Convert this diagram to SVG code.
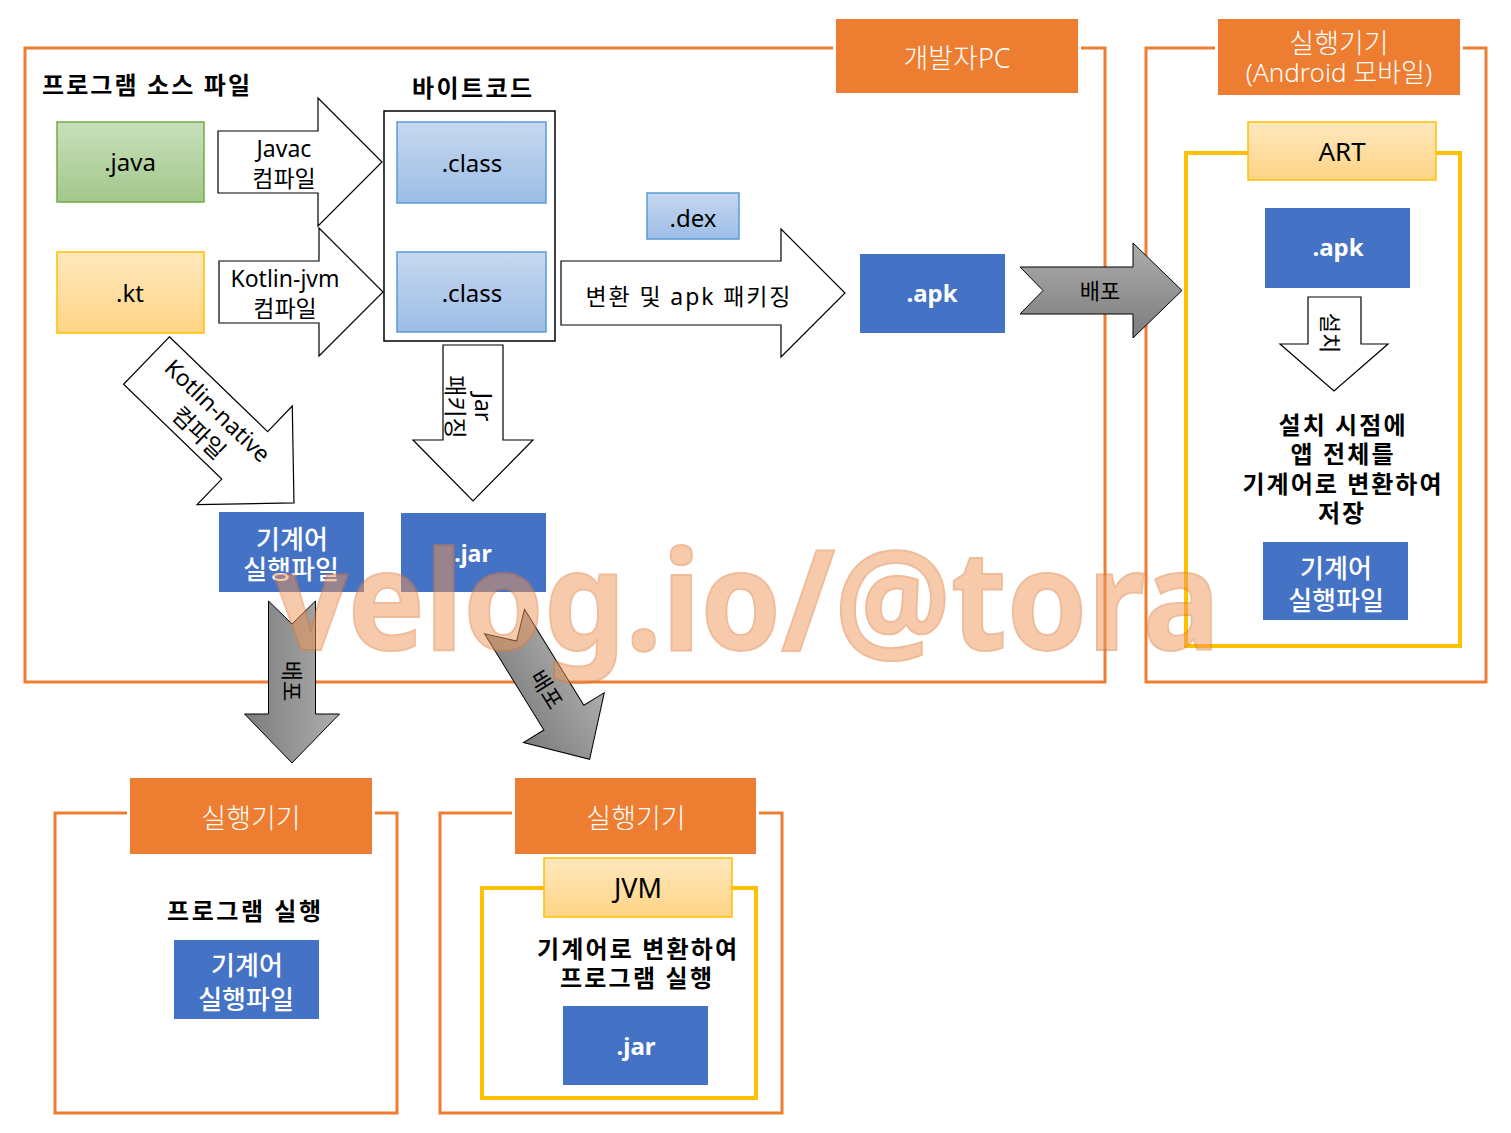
<svg xmlns="http://www.w3.org/2000/svg" width="1511" height="1133" viewBox="0 0 1511 1133">
<defs>
<style>
text{font-family:"Noto Sans","Noto Sans CJK KR",sans-serif;fill:#000}
.c{text-anchor:middle}
.b{font-weight:700}
.wt{fill:#fff}
.md{font-weight:500}
.lt{font-weight:300;fill:#fff}
.frame{fill:none;stroke:#ED7D31;stroke-width:3}
.yframe{fill:none;stroke:#FFC000;stroke-width:4}
.lbl{fill:#ED7D31}
.gap{fill:#fff}
.blue{fill:#4472C4}
.lblue{fill:url(#gBlueL);stroke:#5B9BD5;stroke-width:1.5}
.green{fill:url(#gGreen);stroke:#70AD47;stroke-width:1.5}
.yel{fill:url(#gYel);stroke:#FFC000;stroke-width:1.5}
.warrow{fill:#fff;stroke:#000;stroke-width:1.2}
.garrow{fill:url(#gGray);stroke:#000;stroke-width:1}
.wm{font-family:"Noto Sans","Open Sans",sans-serif;font-weight:700;fill:#EE9758;stroke:#E07B3A;stroke-width:2;opacity:0.5}
</style>
<linearGradient id="gGreen" x1="0" y1="0" x2="0" y2="1"><stop offset="0" stop-color="#C8E0BB"/><stop offset="1" stop-color="#A3C78B"/></linearGradient>
<linearGradient id="gYel" x1="0" y1="0" x2="0" y2="1"><stop offset="0" stop-color="#FFE8BE"/><stop offset="1" stop-color="#FFD485"/></linearGradient>
<linearGradient id="gBlueL" x1="0" y1="0" x2="0" y2="1"><stop offset="0" stop-color="#C7D8EF"/><stop offset="1" stop-color="#9CBDE6"/></linearGradient>
<linearGradient id="gGray" x1="0" y1="0" x2="0" y2="1"><stop offset="0" stop-color="#ADADAD"/><stop offset="1" stop-color="#7C7C7C"/></linearGradient>
</defs>
<rect width="1511" height="1133" fill="#fff"/>

<!-- Developer PC frame -->
<g id="devpc">
<rect class="frame" x="25" y="48" width="1080" height="634"/>
<rect class="gap" x="833" y="16" width="248" height="80"/>
<rect class="lbl" x="836" y="19" width="242" height="74"/>
<text class="c lt" x="957" y="68" font-size="27">개발자PC</text>
</g>

<!-- Android device frame -->
<g id="android">
<rect class="frame" x="1146" y="48" width="340" height="634"/>
<rect class="gap" x="1215" y="16" width="248" height="82"/>
<rect class="lbl" x="1218" y="19" width="242" height="76"/>
<text class="c lt" x="1339" y="53" font-size="27">실행기기</text>
<text class="c lt" x="1339" y="82" font-size="26">(Android 모바일)</text>
</g>
<g id="art">
<rect class="yframe" x="1186" y="153" width="274" height="493"/>
<rect class="yel" x="1248" y="122" width="188" height="58"/>
<text class="c" x="1342" y="161" font-size="26">ART</text>
</g>
<g id="apk-device">
<rect class="blue" x="1265" y="208" width="145" height="80"/>
<text class="c b wt" x="1338" y="256" font-size="24">.apk</text>
</g>
<g id="art-desc">
<text class="c b" x="1342" y="434" font-size="24" textLength="127" lengthAdjust="spacing">설치 시점에</text>
<text class="c b" x="1342" y="463" font-size="24" textLength="103" lengthAdjust="spacing">앱 전체를</text>
<text class="c b" x="1342" y="493" font-size="24" textLength="199" lengthAdjust="spacing">기계어로 변환하여</text>
<text class="c b" x="1341" y="522" font-size="24" textLength="46" lengthAdjust="spacing">저장</text>
</g>
<g id="native-device">
<rect class="blue" x="1263" y="542" width="145" height="78"/>
<text class="c md wt" x="1336" y="578" font-size="26">기계어</text>
<text class="c md wt" x="1336" y="610" font-size="26">실행파일</text>
</g>

<!-- Dev PC contents -->
<g id="heading-source"><text class="c b" x="146" y="94" font-size="24" textLength="208" lengthAdjust="spacing">프로그램 소스 파일</text></g>
<g id="heading-bytecode"><text class="c b" x="472" y="97" font-size="24" textLength="120" lengthAdjust="spacing">바이트코드</text></g>
<g id="java">
<rect class="green" x="57" y="122" width="147" height="80"/>
<text class="c" x="130" y="171" font-size="24">.java</text>
</g>
<g id="kt">
<rect class="yel" x="57" y="252" width="147" height="81"/>
<text class="c" x="130" y="302" font-size="24">.kt</text>
</g>
<g id="bytecode">
<rect x="384" y="111" width="171" height="230" fill="#fff" stroke="#000" stroke-width="1.5"/>
</g>
<g id="class1">
<rect class="lblue" x="397" y="122" width="149" height="81"/>
<text class="c" x="472" y="172" font-size="24">.class</text>
</g>
<g id="class2">
<rect class="lblue" x="397" y="252" width="149" height="80"/>
<text class="c" x="472" y="302" font-size="24">.class</text>
</g>
<g id="dex">
<rect class="lblue" x="647" y="193" width="92" height="46"/>
<text class="c" x="693" y="227" font-size="24">.dex</text>
</g>
<g id="apk">
<rect class="blue" x="860" y="254" width="145" height="79"/>
<text class="c b wt" x="932" y="302" font-size="24">.apk</text>
</g>
<g id="native-exe">
<rect class="blue" x="219" y="512" width="145" height="80"/>
<text class="c md wt" x="292" y="549" font-size="26">기계어</text>
<text class="c md wt" x="291" y="579" font-size="26">실행파일</text>
</g>
<g id="jar">
<rect class="blue" x="401" y="513" width="145" height="79"/>
<text class="c b wt" x="473" y="562" font-size="23">.jar</text>
</g>

<!-- Bottom devices -->
<g id="device-native">
<rect class="frame" x="55" y="813" width="342" height="300"/>
<rect class="gap" x="127" y="775" width="248" height="82"/>
<rect class="lbl" x="130" y="778" width="242" height="76"/>
<text class="c lt" x="251" y="828" font-size="27">실행기기</text>
<text class="c b" x="244" y="920" font-size="24" textLength="154" lengthAdjust="spacing">프로그램 실행</text>
<rect class="blue" x="174" y="940" width="145" height="79"/>
<text class="c md wt" x="247" y="975" font-size="26">기계어</text>
<text class="c md wt" x="246" y="1009" font-size="26">실행파일</text>
</g>
<g id="device-jvm">
<rect class="frame" x="440" y="813" width="342" height="300"/>
<rect class="gap" x="512" y="775" width="247" height="82"/>
<rect class="lbl" x="515" y="778" width="241" height="76"/>
<text class="c lt" x="636" y="828" font-size="27">실행기기</text>
<rect class="yframe" x="482" y="888" width="274" height="210"/>
<rect class="yel" x="544" y="858" width="188" height="59"/>
<text class="c" x="638" y="898" font-size="27">JVM</text>
<text class="c b" x="637" y="958" font-size="24" textLength="200" lengthAdjust="spacing">기계어로 변환하여</text>
<text class="c b" x="636" y="987" font-size="24" textLength="152" lengthAdjust="spacing">프로그램 실행</text>
<rect class="blue" x="563" y="1006" width="145" height="79"/>
<text class="c b wt" x="636" y="1055" font-size="24">.jar</text>
</g>

<!-- Connectors -->
<g id="connectors">
<g id="arrow-javac">
<polygon class="warrow" points="218,131 318,131 318,98 382,162 318,226 318,193 218,193"/>
<text class="c" x="284" y="157" font-size="23">Javac</text>
<text class="c" x="284" y="187" font-size="23">컴파일</text>
</g>
<g id="arrow-kotlinjvm">
<polygon class="warrow" points="219,261 319,261 319,228 383,292 319,356 319,323 219,323"/>
<text class="c" x="285" y="287" font-size="23">Kotlin-jvm</text>
<text class="c" x="285" y="317" font-size="23">컴파일</text>
</g>
<g id="arrow-convert">
<polygon class="warrow" points="561,261 781,261 781,229 845,293 781,357 781,325 561,325"/>
<text class="c" x="688" y="305" font-size="23" textLength="205" lengthAdjust="spacing">변환 및 apk 패키징</text>
</g>
<g id="arrow-jar">
<polygon class="warrow" points="443,345 503,345 503,440 533,440 473,501 413,440 443,440"/>
<text class="c" transform="translate(483,407) rotate(90)" y="8" font-size="23">Jar</text>
<text class="c" transform="translate(455,407) rotate(90)" y="8" font-size="23">패키징</text>
</g>
<g id="arrow-kotlinnative" transform="translate(146.5,360.5) rotate(44)">
<polygon class="warrow" points="0,-33 136.5,-33 136.5,-68.5 205,0 136.5,68.5 136.5,33 0,33"/>
<text class="c" x="86" y="-5" font-size="23">Kotlin-native</text>
<text class="c" x="88" y="24" font-size="23">컴파일</text>
</g>
<g id="arrow-install">
<polygon class="warrow" points="1308,297 1361,297 1361,344 1388,344 1334,391 1280,344 1308,344"/>
<text class="c" transform="translate(1330,333) rotate(90)" y="8" font-size="22">설치</text>
</g>
<g id="deploy-apk" transform="translate(1020,290.5)">
<polygon class="garrow" points="0,-23.5 113,-23.5 113,-47.5 162,0 113,47.5 113,23.5 0,23.5 23,0"/>
<text class="c" x="80" y="8" font-size="22">배포</text>
</g>
<g id="deploy-native" transform="translate(292,601) rotate(90)">
<polygon class="garrow" points="0,-23.5 113,-23.5 113,-47.5 162,0 113,47.5 113,23.5 0,23.5 23,0"/>
<text class="c" x="80" y="8" font-size="22">배포</text>
</g>
<g id="deploy-jar" transform="translate(504.5,621.5) rotate(58.3)">
<polygon class="garrow" points="0,-23.5 113,-23.5 113,-47.5 162,0 113,47.5 113,23.5 0,23.5 23,0"/>
<text class="c" x="80" y="8" font-size="22">배포</text>
</g>
</g>

<!-- Watermark -->
<text class="wm" x="274" y="650" font-size="138" textLength="946" lengthAdjust="spacingAndGlyphs">velog.io/@tora</text>
</svg>
